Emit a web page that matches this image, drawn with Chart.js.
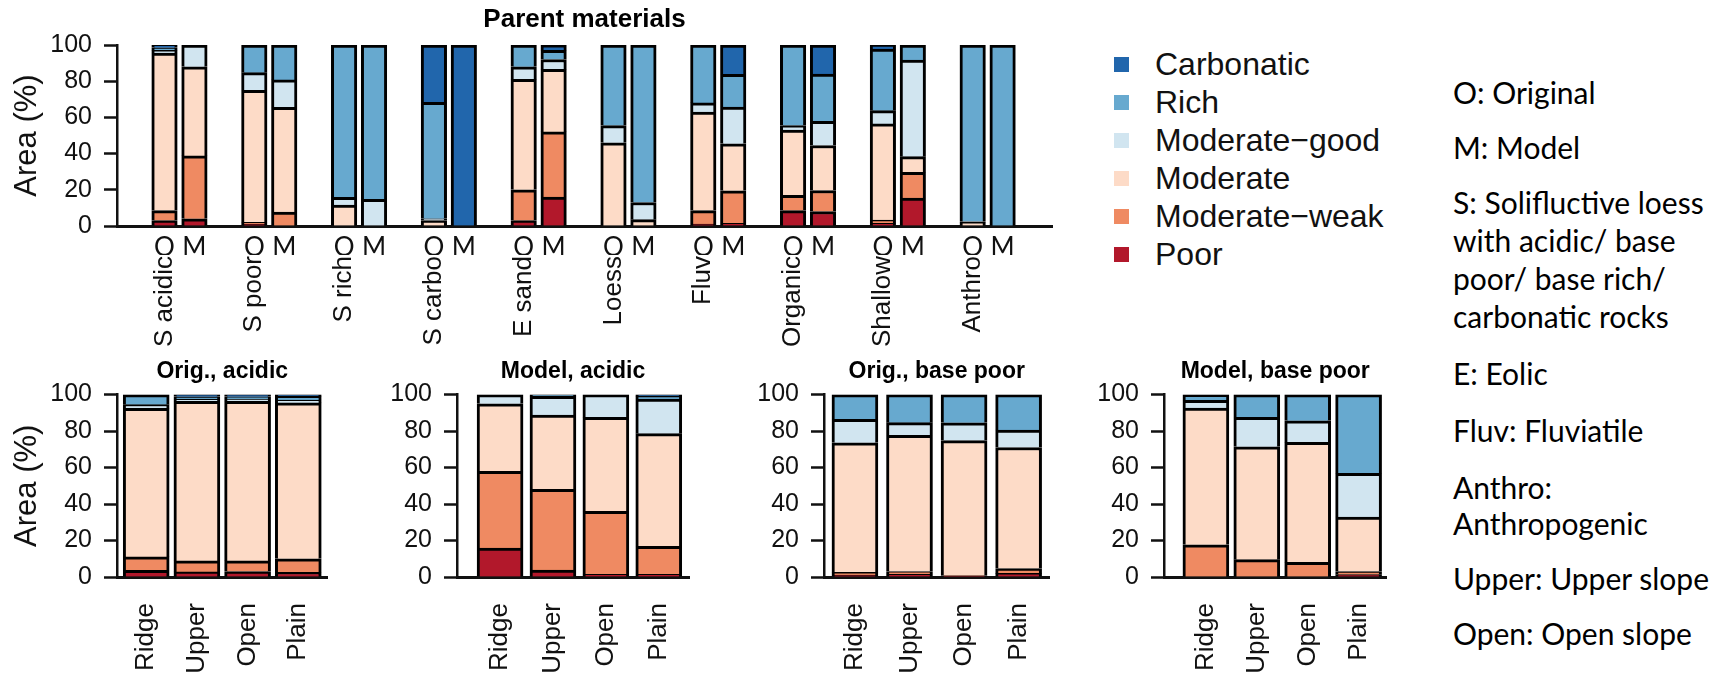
<!DOCTYPE html>
<html lang="en">
<head>
<meta charset="utf-8">
<title>Parent materials</title>
<script src="https://cdn.jsdelivr.net/npm/chart.js@4.4.1/dist/chart.umd.min.js"></script>
<style>
  html, body { margin: 0; padding: 0; background: #fff; }
  #page { position: relative; width: 1726px; height: 676px; overflow: hidden; }
  #page canvas { position: absolute; }
  #legend { position: absolute; left: 1114px; top: 45px; margin: 0; padding: 0; list-style: none;
            font: 32px 'Liberation Sans', Arial, sans-serif; line-height: 38px; color: #111; }
  #legend li { display: flex; align-items: center; white-space: nowrap; }
  #legend .swatch { display: inline-block; width: 15px; height: 15px; margin-right: 26px; }
  .notes { position: absolute; left: 1453px; margin: 0; font: 30px Lato, 'Open Sans', sans-serif; color: #000; white-space: nowrap; }
  .notes p { margin: 0; }
</style>
</head>
<body>
<div id="page">
  <canvas id="pm" width="1100" height="380" style="left:0;top:0"></canvas>
  <canvas id="oa" width="360" height="336" style="left:0;top:340px"></canvas>
  <canvas id="ma" width="360" height="336" style="left:360px;top:340px"></canvas>
  <canvas id="ob" width="360" height="336" style="left:720px;top:340px"></canvas>
  <canvas id="mb" width="340" height="336" style="left:1080px;top:340px"></canvas>
  <ul id="legend"></ul>
  <div class="notes" style="top:73px; line-height:38px">
    <p style="margin-bottom:17px">O: Original</p>
    <p style="margin-bottom:17px">M: Model</p>
    <p>S: Solifluctive loess<br>with acidic/ base<br>poor/ base rich/<br>carbonatic rocks</p>
  </div>
  <div class="notes" style="top:355px; line-height:36px">
    <p style="margin-bottom:21px">E: Eolic</p>
    <p style="margin-bottom:21px">Fluv: Fluviatile</p>
    <p style="margin-bottom:19px">Anthro:<br>Anthropogenic</p>
    <p style="margin-bottom:19px">Upper: Upper slope</p>
    <p>Open: Open slope</p>
  </div>
</div>
<script>
// classes, stacked bottom to top
const classes = ['Poor', 'Moderate\u2212weak', 'Moderate', 'Moderate\u2212good', 'Rich', 'Carbonatic'];
const classColors = ['#b2182b', '#ef8a62', '#fddbc7', '#d1e5f0', '#67a9cf', '#2166ac'];

const parentMaterials = ['S acidic', 'S poor', 'S rich', 'S carbo', 'E sand', 'Loess', 'Fluv', 'Organic', 'Shallow', 'Anthro'];
const versions = ['O', 'M'];

// Parent materials, original map (O), area %
const origPoor       = [3, 1, 0, 0, 3, 0, 1, 8.5, 1.5, 0];
const origModWeak    = [5.5, 1, 0, 0, 17, 0, 7.5, 8.5, 1.8, 0];
const origModerate   = [87, 73, 11.6, 3, 61, 46, 54.5, 36, 53.1, 2];
const origModGood    = [1.5, 9.7, 4.2, 1, 7, 9.5, 5, 2.5, 7.3, 0.5];
const origRich       = [1.5, 15.3, 84.2, 64.3, 12, 44.5, 32, 44.5, 34.1, 97.5];
const origCarbonatic = [1.5, 0, 0, 31.7, 0, 0, 0, 0, 2.2, 0];

// Parent materials, model (M), area %
const modelPoor       = [4, 0, 0, 0, 16, 0, 1.5, 8, 15.4, 0];
const modelModWeak    = [34.7, 7.7, 0, 0, 36, 0, 18, 11.6, 14.2, 0];
const modelModerate   = [49.3, 57.9, 0, 0, 34.5, 3.5, 25.9, 24.9, 8.7, 0];
const modelModGood    = [12, 15.1, 14.7, 0, 5.5, 9.5, 20.3, 13.3, 53.4, 0];
const modelRich       = [0, 19.3, 85.3, 0, 5, 87, 18.1, 26.2, 8.3, 100];
const modelCarbonatic = [0, 0, 0, 100, 3, 0, 16.2, 16, 0, 0];

const slopes = ['Ridge', 'Upper', 'Open', 'Plain'];

// Orig., acidic
const oaPoor = [3.7, 2.8, 3, 2.5];
const oaModWeak = [7.3, 6, 5.8, 7.5];
const oaModerate = [81.5, 87.5, 87.5, 85.5];
const oaModGood = [2, 1.2, 1.3, 1.5];
const oaRich = [5.5, 1.3, 1.2, 2];
const oaCarbonatic = [0, 1.2, 1.2, 1];

// Model, acidic
const maPoor = [15.8, 3.8, 1.5, 1.5];
const maModWeak = [42.2, 44.2, 34.5, 15.3];
const maModerate = [37, 40.8, 51.5, 61.8];
const maModGood = [5, 10.2, 12.5, 19];
const maRich = [0, 1, 0, 1.4];
const maCarbonatic = [0, 0, 0, 1];

// Orig., base poor
const obPoor = [1, 1.5, 0.4, 2];
const obModWeak = [1.5, 1.5, 0.4, 2.6];
const obModerate = [71.1, 74.7, 74, 66.4];
const obModGood = [12.9, 6.9, 9.7, 9.5];
const obRich = [13.5, 15.4, 15.5, 19.5];
const obCarbonatic = [0, 0, 0, 0];

// Model, base poor
const mbPoor = [0, 0, 0, 1.3];
const mbModWeak = [17.7, 9.5, 8, 1.7];
const mbModerate = [74.9, 61.9, 65.8, 29.8];
const mbModGood = [4.3, 16.2, 11.8, 24];
const mbRich = [3.1, 12.4, 14.4, 43.2];
const mbCarbonatic = [0, 0, 0, 0];

const ink = '#111';
const sans = "'Liberation Sans', Arial, sans-serif";
const lato = "Lato, 'Open Sans', sans-serif";

function barStyle(k, thickness) {
    return {
        label: classes[k],
        backgroundColor: classColors[k],
        borderColor: '#000',
        borderWidth: { top: 3, left: 3, right: 3, bottom: 0 },
        borderSkipped: false,
        barThickness: thickness
    };
}

function yAxis(width, withTitle) {
    return {
        stacked: true,
        min: 0,
        max: 100,
        ticks: { stepSize: 20, color: ink, font: { family: sans, size: 25 }, padding: 12 },
        grid: { drawOnChartArea: false, tickLength: 13, tickWidth: 2.5, color: ink },
        border: { width: 2.5, color: ink },
        title: {
            display: withTitle,
            text: 'Area (%)',
            color: ink,
            font: { family: sans, size: 31 },
            padding: { top: 9, bottom: 0 }
        },
        afterFit: s => { s.width = width; }
    };
}

// top chart: O/M pairs, one empty slot between materials
const origSeries = [origPoor, origModWeak, origModerate, origModGood, origRich, origCarbonatic];
const modelSeries = [modelPoor, modelModWeak, modelModerate, modelModGood, modelRich, modelCarbonatic];
const slot = (group, version) => 3 * group + version;

const pmChart = new Chart(document.getElementById('pm'), {
    type: 'bar',
    data: {
        datasets: classes.map((c, k) => ({
            ...barStyle(k, 25.5),
            data: parentMaterials.flatMap((_, i) => [
                { x: slot(i, 0), y: origSeries[k][i] },
                { x: slot(i, 1), y: modelSeries[k][i] }
            ])
        }))
    },
    options: {
        responsive: false,
        animation: false,
        layout: { padding: { left: 0, right: 48, top: 0, bottom: 0 } },
        plugins: {
            legend: { display: false },
            tooltip: { enabled: false },
            title: {
                display: true,
                text: 'Parent materials',
                fullSize: false,
                color: '#000',
                font: { family: sans, size: 26, weight: 'bold' },
                padding: { top: 4, bottom: 9.8 }
            }
        },
        scales: {
            x: {
                type: 'linear',
                stacked: true,
                offset: false,
                min: -1.587,
                max: 29.65,
                weight: 0,
                z: 1,
                grid: { display: false, drawTicks: false },
                border: { width: 3, color: ink },
                ticks: {
                    autoSkip: false, maxRotation: 0, padding: 6, color: ink,
                    font: { family: lato, size: 26 },
                    callback: v => versions[v % 3]
                },
                afterBuildTicks: s => {
                    s.ticks = parentMaterials.flatMap((_, i) => versions.map((_, j) => ({ value: slot(i, j) })));
                },
                afterFit: s => { s.height = 29; }
            },
            xg: {
                type: 'linear',
                axis: 'x',
                position: 'bottom',
                offset: false,
                min: -1.587,
                max: 29.65,
                weight: 1,
                grid: { display: false, drawTicks: false },
                border: { display: false },
                ticks: {
                    autoSkip: false, minRotation: 90, maxRotation: 90, padding: 1, color: ink,
                    font: { family: sans, size: 26 },
                    callback: v => parentMaterials[v / 3]
                },
                afterBuildTicks: s => {
                    s.ticks = parentMaterials.map((_, i) => ({ value: slot(i, 0) }));
                },
                afterFit: s => { s.height = 125; }
            },
            y: yAxis(117, true)
        }
    }
});

// html legend, Carbonatic on top
const legendList = document.getElementById('legend');
pmChart.options.plugins.legend.labels.generateLabels(pmChart).reverse().forEach(item => {
    const li = document.createElement('li');
    li.innerHTML = `<span class="swatch" style="background:${item.fillStyle}"></span>${item.text}`;
    legendList.appendChild(li);
});

function slopeChart(id, title, series, frame) {
    return new Chart(document.getElementById(id), {
        type: 'bar',
        data: {
            datasets: classes.map((c, k) => ({
                ...barStyle(k, 46),
                data: series[k].map((v, i) => ({ x: i, y: v }))
            }))
        },
        options: {
            responsive: false,
            animation: false,
            layout: { padding: { left: 0, right: frame.padRight, top: 0, bottom: 0 } },
            plugins: {
                legend: { display: false },
                tooltip: { enabled: false },
                title: {
                    display: true,
                    text: title,
                    fullSize: false,
                    color: '#000',
                    font: { family: sans, size: 23, weight: 'bold' },
                    padding: { top: 18, bottom: 9 }
                }
            },
            scales: {
                x: {
                    type: 'linear',
                    stacked: true,
                    offset: false,
                    min: frame.xMin,
                    max: frame.xMax,
                    z: 1,
                    grid: { display: false, drawTicks: false },
                    border: { width: 3, color: ink },
                    ticks: {
                        autoSkip: false, minRotation: 90, maxRotation: 90, padding: 26, color: ink,
                        font: { family: sans, size: 26 },
                        callback: v => slopes[v]
                    },
                    afterBuildTicks: s => { s.ticks = slopes.map((_, i) => ({ value: i })); },
                    afterFit: s => { s.height = 99; }
                },
                y: yAxis(frame.yWidth, frame.yTitle)
            }
        }
    });
}

slopeChart('oa', 'Orig., acidic',
    [oaPoor, oaModWeak, oaModerate, oaModGood, oaRich, oaCarbonatic],
    { yWidth: 117, yTitle: true, xMin: -0.576, xMax: 3.576, padRight: 16 });
slopeChart('ma', 'Model, acidic',
    [maPoor, maModWeak, maModerate, maModGood, maRich, maCarbonatic],
    { yWidth: 97, yTitle: false, xMin: -0.814, xMax: 3.574, padRight: 23 });
slopeChart('ob', 'Orig., base poor',
    [obPoor, obModWeak, obModerate, obModGood, obRich, obCarbonatic],
    { yWidth: 104, yTitle: false, xMin: -0.567, xMax: 3.565, padRight: 30 });
slopeChart('mb', 'Model, base poor',
    [mbPoor, mbModWeak, mbModerate, mbModGood, mbRich, mbCarbonatic],
    { yWidth: 84, yTitle: false, xMin: -0.823, xMax: 3.547, padRight: 17 });
</script>
</body>
</html>
